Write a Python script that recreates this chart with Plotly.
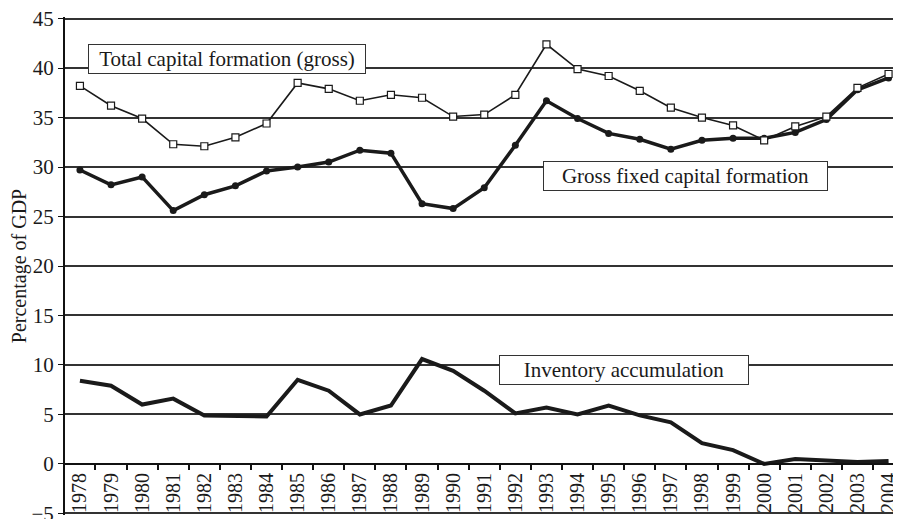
import plotly.graph_objects as go

years = [str(y) for y in range(1978, 2005)]

total_gross = [38.2, 36.2, 34.9, 32.3, 32.1, 33.0, 34.4, 38.5, 37.9, 36.7, 37.3, 37.0,
               35.1, 35.3, 37.3, 42.4, 39.9, 39.2, 37.7, 36.0, 35.0, 34.2, 32.7, 34.1,
               35.1, 38.0, 39.4]
gross_fixed = [29.7, 28.2, 29.0, 25.6, 27.2, 28.1, 29.6, 30.0, 30.5, 31.7, 31.4, 26.3,
               25.8, 27.9, 32.2, 36.7, 34.9, 33.4, 32.8, 31.8, 32.7, 32.9, 32.9, 33.5,
               34.8, 37.8, 39.0]
inventory = [8.4, 7.9, 6.0, 6.6, 4.9, 4.9, 4.8, 8.5, 7.4, 5.0, 5.9, 10.6,
             9.4, 7.4, 5.1, 5.7, 5.0, 5.9, 4.9, 4.2, 2.1, 1.4, 0.0, 0.5,
             0.3, 0.2, 0.3]

FONT = "Liberation Serif"
# a little slack so plotly keeps the end gridlines / labels (-5 and 45)
Y_MIN, Y_MAX = -5.16, 45.16

fig = go.Figure()
fig.add_trace(go.Scatter(
    x=years, y=inventory, mode="lines",
    line=dict(color="#1a1a1a", width=4),
    name="Inventory accumulation",
))
fig.add_trace(go.Scatter(
    x=years, y=gross_fixed, mode="lines+markers",
    line=dict(color="#1a1a1a", width=3.5),
    marker=dict(symbol="circle", size=7, color="#1a1a1a"),
    name="Gross fixed capital formation",
))
fig.add_trace(go.Scatter(
    x=years, y=total_gross, mode="lines+markers",
    line=dict(color="#1a1a1a", width=1.6),
    marker=dict(symbol="square", size=7, color="white", line=dict(color="#1a1a1a", width=1.2)),
    name="Total capital formation (gross)",
))

# label boxes (centre in data units, box width in px)
labels = [
    ("Total capital formation (gross)", 4.72, 40.9, 272),
    ("Gross fixed capital formation", 19.47, 29.06, 279),
    ("Inventory accumulation", 17.48, 9.49, 244),
]
for text, ax, ay, w in labels:
    fig.add_annotation(
        x=ax, y=ay, xref="x", yref="y", text=text, showarrow=False,
        font=dict(family=FONT, size=21, color="#1a1a1a"),
        bgcolor="white", bordercolor="#333", borderwidth=1, borderpad=2,
        width=w, align="center",
    )

# page body has an 8px margin, so the figure is shifted 8px right/down
fig.update_layout(
    width=893, height=519,
    margin=dict(l=57, r=0, t=9, b=12, autoexpand=False),
    plot_bgcolor="white", paper_bgcolor="white",
    showlegend=False,
    font=dict(family=FONT, size=20, color="#1a1a1a"),
)
fig.update_xaxes(
    type="category", range=[-0.48, 26.4],
    anchor="free", position=(0 - Y_MIN) / (Y_MAX - Y_MIN), automargin=False,
    showline=True, linecolor="#111", linewidth=2,
    ticks="outside", tickson="boundaries", ticklen=5, tickcolor="#111", tickwidth=1.5,
    tickangle=-90, tickfont=dict(family=FONT, size=20),
    showgrid=False, zeroline=False,
)
fig.update_yaxes(
    range=[Y_MIN, Y_MAX], dtick=5, tick0=0, automargin=False,
    showline=True, linecolor="#111", linewidth=2,
    ticks="outside", ticklen=5, tickcolor="#111",
    showgrid=True, gridcolor="#333", gridwidth=1.5,
    zeroline=False, ticklabeloverflow="allow",
    tickfont=dict(family=FONT, size=21),
    title=dict(text="Percentage of GDP", font=dict(family=FONT, size=20)),
)

fig.write_html("out.html")
